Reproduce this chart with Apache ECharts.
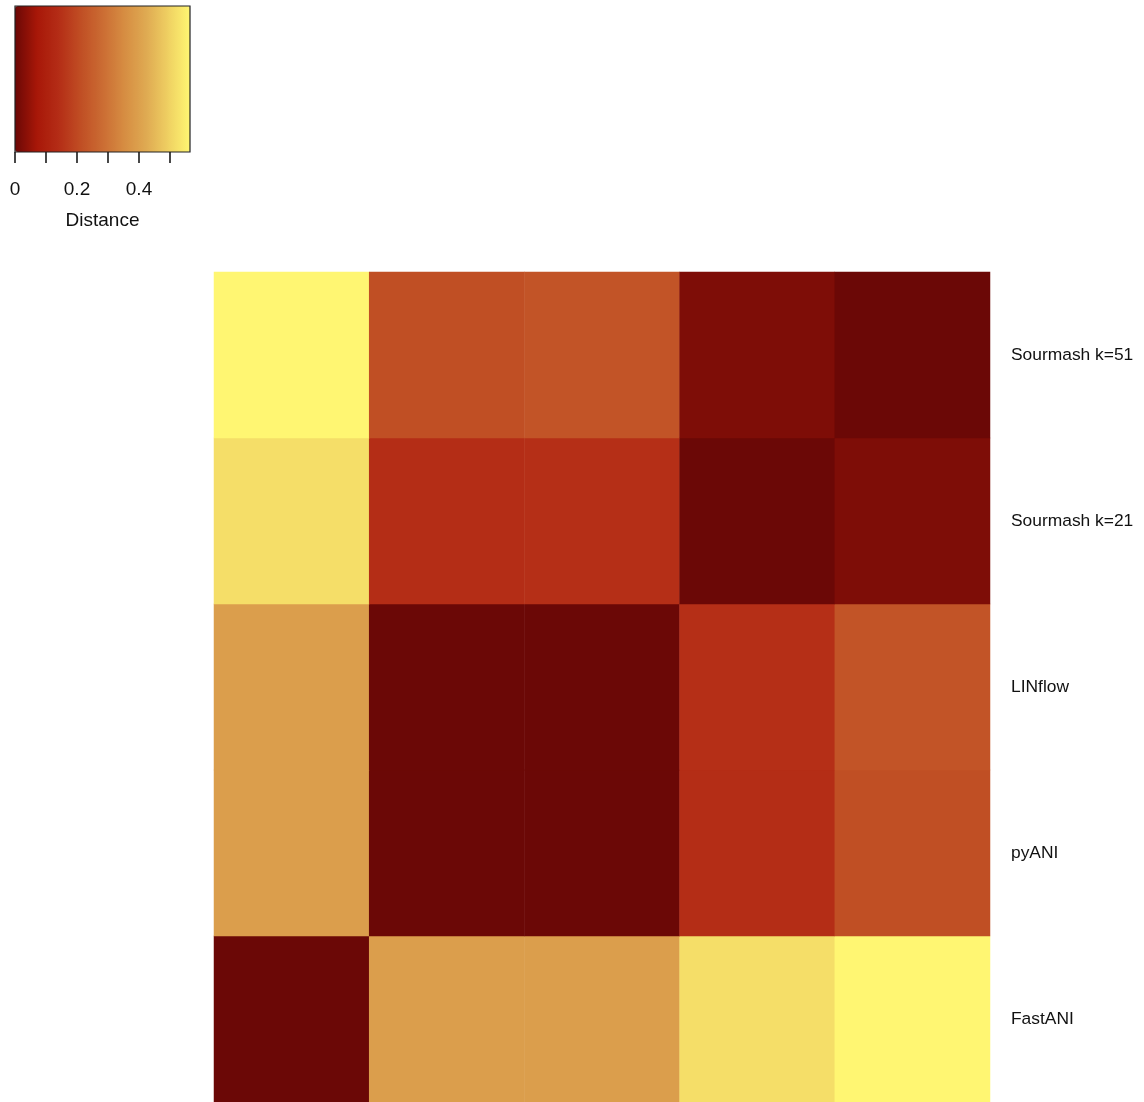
<!DOCTYPE html>
<html>
<head>
<meta charset="utf-8">
<title>Distance heatmap</title>
<script src="https://cdn.jsdelivr.net/npm/echarts@6/dist/echarts.min.js"></script>
<style>
  html, body { margin: 0; padding: 0; background: #ffffff; }
  #chart { width: 1144px; height: 1102px; }
</style>
</head>
<body>
<div id="chart"></div>
<script>
// Methods compared (x left→right, y bottom→top)
const methods = ['FastANI', 'pyANI', 'LINflow', 'Sourmash k=21', 'Sourmash k=51'];

// Pairwise distances, one row per method, columns in the same order as `methods`
const distFastANI = [0.000, 0.395, 0.395, 0.520, 0.564];
const distPyANI   = [0.395, 0.000, 0.000, 0.140, 0.213];
const distLINflow = [0.395, 0.000, 0.000, 0.145, 0.225];
const distSm21    = [0.520, 0.140, 0.145, 0.000, 0.022];
const distSm51    = [0.564, 0.213, 0.225, 0.022, 0.000];

// Colour-key ticks
const keyMin = 0;
const keyMax = 0.5645;
const keyTickStep = 0.1;

// Dark red → red → orange → yellow ramp
const palette = ['#6b0806', '#a71708', '#b42d16', '#c04e24', '#cb6c33',
                 '#d68d42', '#dfaa52', '#efd062', '#fff672'];

const rows = [distFastANI, distPyANI, distLINflow, distSm21, distSm51];
const cells = [];
rows.forEach((row, yi) => row.forEach((v, xi) => cells.push([xi, yi, v])));

const FONT = '"Liberation Sans", Arial, Helvetica, sans-serif';
const chart = echarts.init(document.getElementById('chart'), null, { renderer: 'canvas' });

chart.setOption({
  backgroundColor: '#ffffff',
  animation: false,
  textStyle: { fontFamily: FONT },
  grid: [
    { left: 214, top: 272, width: 776, height: 831, containLabel: false },
    { left: 15, top: 6, width: 175, height: 146, show: true,
      borderColor: '#222', borderWidth: 1.2, backgroundColor: 'transparent', z: 10 }
  ],
  xAxis: [
    { type: 'category', gridIndex: 0, data: methods,
      axisLine: { show: false }, axisTick: { show: false }, axisLabel: { show: false },
      splitLine: { show: false } },
    { type: 'value', gridIndex: 1, min: keyMin, max: keyMax, interval: keyTickStep,
      position: 'bottom', z: 10,
      axisLine: { show: false },
      axisTick: { show: true, length: 11, lineStyle: { color: '#1a1a1a', width: 1.6 } },
      splitLine: { show: false },
      axisLabel: {
        showMaxLabel: false, margin: 28, fontSize: 19, color: '#111', fontFamily: FONT,
        formatter: v => {
          const r = Math.round(v * 10);
          if (r % 2 !== 0) return '';
          return r === 0 ? '0' : (r / 10).toFixed(1);
        }
      },
      name: 'Distance', nameLocation: 'middle', nameGap: 59,
      nameTextStyle: { fontSize: 19, color: '#111', fontFamily: FONT } }
  ],
  yAxis: [
    { type: 'category', gridIndex: 0, data: methods, position: 'right',
      axisLine: { show: false }, axisTick: { show: false }, splitLine: { show: false },
      axisLabel: { margin: 21, fontSize: 17.4, color: '#111', fontFamily: FONT,
                   padding: [2, 0, 0, 0] } },
    { type: 'value', gridIndex: 1, show: false, min: 0, max: 1 }
  ],
  visualMap: {
    type: 'continuous',
    seriesIndex: 0,
    min: keyMin, max: keyMax,
    orient: 'horizontal',
    left: 15, top: 6,
    itemWidth: 146, itemHeight: 175,
    padding: 0,
    text: null,
    showLabel: false,
    calculable: false,
    hoverLink: false,
    inRange: { color: palette }
  },
  series: [{
    type: 'heatmap',
    xAxisIndex: 0, yAxisIndex: 0,
    data: cells,
    itemStyle: { borderWidth: 0 },
    emphasis: { disabled: true },
    silent: true
  }]
});
</script>
</body>
</html>
